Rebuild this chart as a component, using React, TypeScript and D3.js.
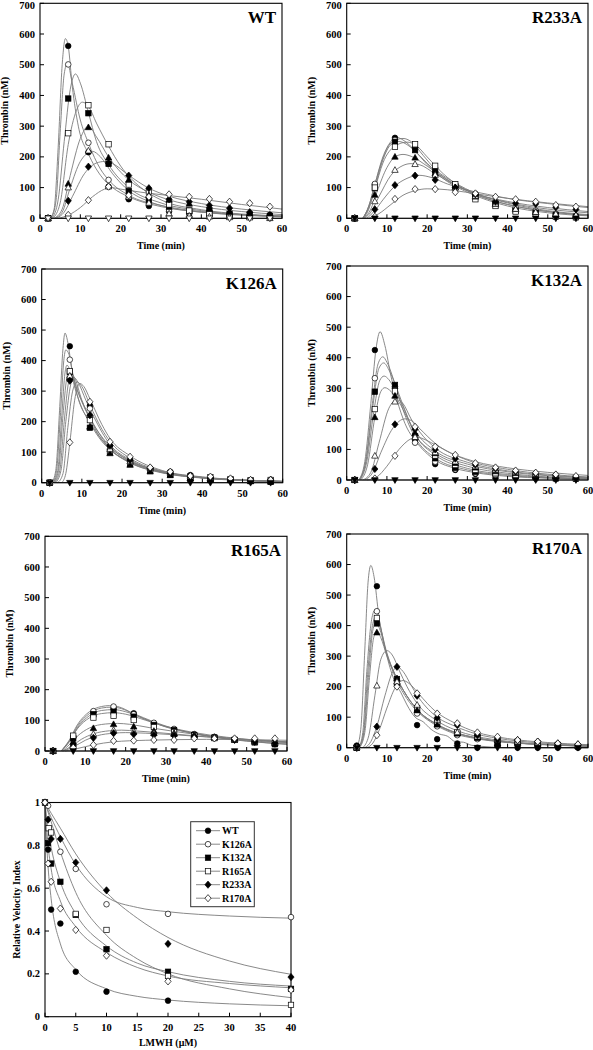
import React from 'react';
import * as d3 from 'd3';

// ---------- shared axis data ----------
const TIMES = [2, 7, 12, 17, 22, 27, 32, 37, 42, 47, 52, 57];
const TIMES_R170A = [2.5, 7.5, 12.5, 17.5, 22.5, 27.5, 32.5, 37.5, 42.5, 47.5, 52.5, 57.5];
const THROMBIN_TICKS = [0, 100, 200, 300, 400, 500, 600, 700];
const TIME_TICKS = [0, 10, 20, 30, 40, 50, 60];
const LMWH_TICKS = [0, 5, 10, 15, 20, 25, 30, 35, 40];
const RVI_TICKS = [0, 0.2, 0.4, 0.6, 0.8, 1];
const VARIANTS = ['WT', 'K126A', 'K132A', 'R165A', 'R233A', 'R170A'];

// ---------- WT ----------
const WT_POINTS = [
  [0, 561, 215, 103, 62, 40, 22, 15, 10, 8, 5, 11],
  [0, 501, 246, 125, 70, 50, 28, 18, 12, 8, 5, 3],
  [0, 390, 342, 177, 89, 60, 38, 25, 27, 15, 12, 8],
  [0, 277, 368, 241, 110, 87, 45, 25, 15, 10, 5, 3],
  [0, 112, 296, 197, 125, 75, 60, 47, 30, 20, 15, 10],
  [0, 100, 220, 103, 70, 50, 15, 8, 5, 3, 2, 0],
  [0, 57, 168, 180, 139, 98, 62, 54, 42, 33, 20, 10],
  [0, 11, 59, 103, 75, 70, 78, 70, 63, 54, 49, 38],
  [0, 0, 0, 0, 0, 0, 0, 0, 0, 0, 0, 0],
];
const WT_CURVES = [
  [[2.5, 0], [3.5, 30], [4.5, 230], [5.5, 500], [6.3, 585], [7, 560], [8, 430], [9.5, 300], [12, 210], [15, 140], [18, 100], [22, 70], [30, 38], [40, 20], [50, 12], [60, 8]],
  [[2.8, 0], [4, 60], [5, 280], [6, 470], [6.8, 505], [8, 440], [10, 320], [12, 245], [15, 160], [17, 125], [22, 75], [30, 42], [40, 22], [50, 12], [60, 6]],
  [[3, 0], [4.5, 60], [6, 250], [7.5, 420], [8.8, 470], [10, 440], [12, 345], [14, 250], [17, 175], [22, 100], [30, 50], [40, 25], [50, 12], [60, 6]],
  [[3.2, 0], [5, 50], [7, 240], [9, 350], [10.5, 378], [12, 365], [14, 310], [17, 235], [20, 170], [25, 100], [30, 60], [40, 28], [50, 14], [60, 7]],
  [[3.5, 0], [5.5, 30], [7.5, 140], [10, 260], [12, 300], [14, 265], [17, 200], [22, 125], [27, 85], [32, 60], [40, 38], [50, 22], [60, 12]],
  [[3.5, 0], [5.5, 20], [7.5, 100], [10, 185], [13, 218], [15, 200], [18, 145], [22, 90], [27, 55], [32, 35], [40, 20], [50, 10], [60, 5]],
  [[4, 0], [6, 20], [8, 70], [11, 145], [14, 180], [16, 185], [18, 178], [22, 140], [27, 98], [32, 72], [40, 48], [50, 30], [60, 18]],
  [[4.5, 0], [7, 10], [10, 35], [13, 70], [16, 95], [17.5, 100], [20, 95], [25, 85], [30, 77], [40, 62], [50, 45], [60, 30]],
  [[0, 0], [60, 0]],
];

// ---------- R233A ----------
const R233A_POINTS = [
  [0, 110, 262, 230, 150, 105, 75, 50, 30, 20, 10, 3],
  [0, 112, 255, 230, 141, 110, 80, 55, 35, 25, 15, 8],
  [0, 98, 249, 222, 157, 105, 72, 45, 25, 18, 10, 5],
  [0, 100, 233, 241, 171, 111, 62, 40, 22, 12, 5, 3],
  [0, 76, 200, 197, 146, 100, 70, 47, 30, 20, 12, 8],
  [0, 55, 157, 176, 141, 100, 72, 47, 30, 20, 14, 10],
  [0, 29, 108, 139, 125, 100, 78, 54, 49, 47, 36, 29],
  [0, 5, 63, 95, 95, 85, 81, 70, 62, 54, 43, 38],
  [0, 0, 0, 0, 0, 0, 0, 0, 0, 0, 0, 0],
];
const R233A_CURVES = [
  [[4, 0], [5.5, 40], [7, 110], [9, 200], [11, 250], [12.5, 263], [14, 255], [17, 220], [20, 175], [25, 120], [30, 85], [40, 40], [50, 18], [60, 8]],
  [[4, 0], [5.5, 40], [7, 110], [9, 195], [11, 245], [14, 260], [16, 250], [19, 205], [22, 160], [27, 115], [32, 82], [40, 50], [50, 25], [60, 12]],
  [[4, 0], [5.5, 35], [7, 100], [9, 190], [11, 240], [13, 250], [15, 240], [18, 205], [22, 155], [27, 110], [32, 78], [40, 45], [50, 22], [60, 10]],
  [[4.2, 0], [5.5, 30], [7, 95], [9, 180], [12, 235], [15, 248], [17, 240], [20, 200], [24, 145], [28, 105], [32, 78], [40, 45], [50, 22], [60, 10]],
  [[4.3, 0], [6, 30], [7.5, 85], [10, 165], [12, 200], [14, 208], [16, 202], [20, 170], [25, 125], [30, 90], [40, 52], [50, 30], [60, 18]],
  [[4.5, 0], [6, 20], [8, 70], [11, 140], [14, 172], [16, 178], [18, 175], [22, 145], [27, 108], [32, 80], [40, 55], [50, 35], [60, 22]],
  [[5, 0], [7, 25], [9, 60], [12, 105], [15, 130], [18, 140], [21, 133], [25, 112], [30, 92], [35, 78], [40, 65], [50, 48], [60, 35]],
  [[5.5, 0], [8, 15], [11, 45], [14, 75], [17, 90], [20, 96], [23, 95], [27, 90], [32, 80], [40, 65], [50, 50], [60, 38]],
  [[0, 0], [60, 0]],
];

// ---------- K126A ----------
const K126A_POINTS = [
  [0, 447, 252, 121, 74, 47, 36, 25, 15, 10, 5, 3],
  [0, 403, 243, 110, 70, 45, 30, 20, 15, 12, 8, 10],
  [0, 363, 180, 101, 61, 40, 25, 14, 9, 9, 5, 3],
  [0, 365, 205, 101, 65, 42, 30, 20, 18, 12, 8, 9],
  [0, 345, 183, 96, 58, 36, 25, 15, 10, 8, 5, 3],
  [0, 350, 221, 110, 70, 48, 32, 20, 15, 12, 8, 10],
  [0, 334, 221, 121, 74, 47, 30, 20, 15, 12, 8, 9],
  [0, 132, 265, 134, 85, 50, 36, 22, 20, 14, 9, 9],
  [0, 0, 0, 0, 0, 0, 0, 0, 0, 0, 0, 0],
];
const K126A_CURVES = [
  [[2.5, 0], [3.5, 40], [4.5, 250], [5.3, 440], [5.8, 490], [6.5, 460], [7.5, 370], [9, 280], [12, 200], [15, 140], [17, 115], [22, 70], [27, 45], [32, 30], [40, 16], [50, 8], [60, 4]],
  [[2.7, 0], [3.7, 40], [4.7, 230], [5.5, 400], [6, 435], [6.8, 420], [8, 340], [10, 265], [12, 210], [15, 150], [17, 118], [22, 72], [30, 36], [40, 17], [50, 8], [60, 4]],
  [[2.8, 0], [4, 40], [5, 220], [5.8, 360], [6.3, 385], [7, 370], [8.5, 300], [10, 245], [12, 195], [15, 135], [17, 108], [22, 65], [30, 32], [40, 15], [50, 7], [60, 3]],
  [[3, 0], [4.2, 40], [5.3, 220], [6.2, 340], [6.8, 370], [7.5, 360], [9, 300], [11, 240], [13, 190], [17, 112], [22, 68], [30, 34], [40, 16], [50, 8], [60, 4]],
  [[3.2, 0], [4.5, 40], [5.6, 200], [6.7, 330], [7.5, 355], [8.3, 340], [10, 270], [12, 210], [15, 140], [17, 110], [22, 66], [30, 33], [40, 16], [50, 8], [60, 4]],
  [[3.5, 0], [4.8, 40], [6, 200], [7.2, 320], [8, 345], [9, 330], [11, 270], [13, 215], [17, 125], [22, 75], [30, 36], [40, 17], [50, 8], [60, 4]],
  [[4, 0], [5.3, 30], [6.5, 180], [7.7, 300], [8.8, 330], [10, 315], [12, 255], [15, 175], [17, 135], [22, 80], [30, 38], [40, 18], [50, 9], [60, 4]],
  [[5, 0], [6, 30], [7, 130], [8.2, 270], [9.5, 325], [10.5, 315], [12, 275], [15, 190], [17, 145], [22, 88], [30, 40], [40, 19], [50, 9], [60, 5]],
  [[0, 0], [60, 0]],
];

// ---------- K132A ----------
const K132A_POINTS = [
  [0, 425, 300, 131, 52, 33, 20, 15, 10, 5, 5, 3],
  [0, 333, 305, 122, 60, 35, 22, 15, 11, 5, 5, 3],
  [0, 289, 311, 142, 71, 40, 27, 22, 15, 11, 5, 5],
  [0, 232, 290, 142, 80, 49, 33, 22, 15, 11, 10, 5],
  [0, 205, 275, 153, 87, 55, 40, 28, 22, 15, 12, 8],
  [0, 79, 256, 140, 90, 60, 44, 33, 25, 20, 15, 10],
  [0, 36, 182, 166, 100, 70, 50, 38, 28, 22, 16, 10],
  [0, 5, 79, 174, 109, 82, 55, 41, 31, 24, 18, 13],
  [0, 0, 0, 0, 0, 0, 0, 0, 0, 0, 0, 0],
];
const K132A_CURVES = [
  [[3, 0], [4.5, 60], [6, 250], [7.3, 430], [8.3, 485], [9.5, 440], [11, 340], [13, 240], [15, 170], [17, 130], [22, 65], [27, 38], [32, 24], [40, 12], [50, 6], [60, 3]],
  [[3, 0], [4.7, 60], [6.3, 240], [7.8, 380], [9, 403], [10, 385], [12, 315], [14, 230], [17, 140], [22, 72], [30, 33], [40, 15], [50, 7], [60, 4]],
  [[3.2, 0], [4.8, 60], [6.5, 240], [8, 365], [9.2, 383], [10.5, 360], [12, 315], [14, 245], [17, 150], [22, 82], [30, 38], [40, 18], [50, 8], [60, 4]],
  [[3.3, 0], [5, 60], [6.7, 220], [8.2, 325], [9.3, 340], [10.5, 328], [12, 295], [14, 240], [17, 150], [22, 88], [30, 45], [40, 22], [50, 10], [60, 5]],
  [[3.5, 0], [5.2, 50], [7, 205], [8.5, 290], [9.5, 302], [11, 290], [13, 255], [15, 205], [17, 160], [22, 95], [30, 52], [40, 27], [50, 14], [60, 7]],
  [[4, 0], [6, 25], [8, 120], [10.5, 235], [12.5, 262], [14, 250], [16, 200], [18, 160], [22, 105], [30, 58], [40, 30], [50, 16], [60, 8]],
  [[4.5, 0], [6.5, 25], [8.5, 90], [11.5, 170], [14.5, 200], [16, 195], [18, 170], [22, 120], [30, 65], [40, 35], [50, 19], [60, 10]],
  [[5, 0], [7.5, 10], [10, 45], [13, 100], [16, 135], [17.5, 140], [19.5, 132], [22, 115], [27, 82], [32, 60], [40, 40], [50, 25], [60, 15]],
  [[0, 0], [60, 0]],
];

// ---------- R165A ----------
const R165A_POINTS = [
  [0, 45, 126, 139, 123, 90, 70, 55, 45, 38, 30, 22],
  [0, 48, 130, 145, 120, 92, 72, 55, 46, 38, 30, 25],
  [0, 41, 120, 128, 112, 85, 68, 52, 44, 36, 28, 22],
  [0, 50, 109, 115, 101, 78, 62, 50, 42, 36, 30, 25],
  [0, 30, 74, 87, 79, 65, 58, 52, 44, 38, 30, 25],
  [0, 22, 55, 68, 63, 58, 55, 50, 45, 38, 33, 28],
  [0, 20, 43, 58, 55, 52, 50, 47, 42, 36, 30, 25],
  [0, 11, 20, 33, 34, 36, 36, 41, 41, 41, 41, 41],
  [0, 0, 0, 0, 0, 0, 0, 0, 0, 0, 0, 0],
];
const R165A_CURVES = [
  [[4, 0], [6, 33], [8, 80], [11, 122], [14, 140], [16.5, 143], [19, 138], [22, 120], [27, 92], [32, 72], [40, 50], [50, 33], [60, 22]],
  [[4, 0], [6, 35], [8, 85], [11, 128], [14, 145], [16, 148], [18, 145], [22, 122], [27, 95], [32, 73], [37, 57], [42, 45], [50, 32], [60, 22]],
  [[4, 0], [6, 30], [8, 75], [11, 115], [14, 132], [17, 135], [20, 128], [24, 108], [30, 78], [37, 57], [45, 42], [60, 25]],
  [[4, 0], [6, 30], [8, 72], [11, 108], [14, 122], [17, 125], [20, 120], [25, 100], [30, 80], [37, 60], [45, 45], [60, 28]],
  [[4.2, 0], [6, 20], [8, 48], [11, 75], [15, 88], [18, 90], [21, 87], [26, 76], [32, 64], [40, 50], [50, 37], [60, 28]],
  [[4.3, 0], [6.5, 15], [9, 38], [12, 56], [16, 66], [19, 68], [23, 65], [28, 60], [35, 52], [45, 41], [60, 30]],
  [[4.5, 0], [7, 13], [10, 35], [13, 50], [17, 58], [20, 60], [25, 58], [32, 53], [40, 46], [50, 38], [60, 30]],
  [[5, 0], [8, 8], [12, 20], [17, 30], [25, 35], [32, 37], [40, 38], [50, 37], [60, 35]],
  [[0, 0], [60, 0]],
];

// ---------- R170A ----------
const R170A_POINTS = [
  [7, 529, 205, 74, 28, 14, 0, 9, 0, 0, 0, 0],
  [0, 447, 210, 112, 70, 41, 28, 20, 14, 10, 8, 5],
  [0, 407, 225, 123, 80, 47, 33, 9, 20, 14, 9, 5],
  [0, 425, 216, 130, 85, 50, 36, 25, 17, 12, 9, 5],
  [0, 377, 227, 123, 75, 47, 33, 25, 17, 12, 9, 5],
  [0, 203, 216, 140, 91, 50, 36, 28, 20, 14, 10, 8],
  [0, 69, 265, 170, 98, 74, 41, 28, 25, 20, 14, 11],
  [0, 41, 200, 178, 112, 80, 50, 36, 25, 20, 14, 11],
  [0, 0, 0, 0, 0, 0, 0, 0, 0, 0, 0, 0],
];
const R170A_CURVES = [
  [[2.5, 0], [3.5, 60], [4.5, 320], [5.3, 540], [6, 597], [6.8, 560], [8, 430], [10, 300], [12, 215], [13.5, 180], [15, 140], [17, 100], [19, 85], [21, 60], [23, 45], [25, 38], [27, 20], [29, 18], [31, 8], [33, 5], [36, 2], [40, 0], [60, 0]],
  [[3, 0], [4, 50], [5, 250], [6.2, 420], [7, 450], [8, 420], [9.5, 330], [11.5, 250], [13, 205], [15, 160], [17.5, 120], [22, 75], [27, 45], [32, 30], [40, 17], [50, 9], [60, 5]],
  [[3.1, 0], [4.3, 50], [5.4, 230], [6.5, 385], [7.3, 410], [8.3, 385], [10, 305], [12, 240], [14, 190], [17.5, 125], [22, 80], [27, 50], [32, 33], [40, 18], [50, 10], [60, 5]],
  [[3, 0], [4.2, 50], [5.2, 240], [6.4, 400], [7.2, 428], [8.2, 400], [10, 310], [12, 240], [14, 190], [17.5, 125], [22, 80], [27, 50], [32, 33], [40, 18], [50, 10], [60, 5]],
  [[3.2, 0], [4.5, 50], [5.6, 220], [6.7, 360], [7.5, 382], [8.5, 360], [10, 300], [12, 240], [14, 190], [17.5, 125], [22, 78], [27, 48], [32, 32], [40, 18], [50, 10], [60, 5]],
  [[4, 0], [5.5, 40], [7, 170], [8.5, 290], [10, 318], [11.5, 300], [13, 255], [15, 200], [17.5, 145], [22, 92], [27, 58], [32, 38], [40, 21], [50, 11], [60, 6]],
  [[4.5, 0], [6, 20], [7.5, 70], [9.5, 170], [11.5, 250], [12.5, 265], [14, 250], [16, 205], [17.5, 172], [22, 105], [27, 70], [32, 46], [40, 26], [50, 14], [60, 8]],
  [[5, 0], [6.5, 15], [8, 55], [10, 130], [12, 195], [14, 220], [16, 205], [18, 175], [22, 120], [27, 80], [32, 52], [40, 30], [50, 17], [60, 10]],
  [[0, 0], [60, 0]],
];

// ---------- Relative velocity index vs LMWH ----------
const RVI_POINTS = [
  [[0, 1], [0.5, 0.78], [1, 0.5], [2.5, 0.435], [5, 0.21], [10, 0.117], [20, 0.075]],
  [[0, 1], [0.5, 0.985], [2.5, 0.77], [5, 0.69], [10, 0.525], [20, 0.48], [40, 0.465]],
  [[0, 1], [0.5, 0.81], [1, 0.715], [2.5, 0.63], [5, 0.475], [10, 0.315], [20, 0.21], [40, 0.13]],
  [[0, 1], [0.6, 0.88], [1, 0.86], [5, 0.48], [10, 0.405], [20, 0.19], [40, 0.055]],
  [[0, 1], [0.5, 0.92], [1, 0.83], [2.5, 0.83], [5, 0.72], [10, 0.59], [20, 0.34], [40, 0.185]],
  [[0, 1], [0.5, 0.715], [1, 0.63], [2.5, 0.505], [5, 0.405], [10, 0.285], [20, 0.165], [40, 0.125]],
];
const RVI_CURVES = [
  [[0, 1], [0.25, 0.82], [0.5, 0.7], [1, 0.55], [2.5, 0.34], [5, 0.22], [10, 0.13], [15, 0.095], [20, 0.078], [30, 0.06], [40, 0.051]],
  [[0, 1], [1, 0.93], [2.5, 0.84], [5, 0.71], [10, 0.56], [15, 0.51], [20, 0.49], [30, 0.47], [40, 0.46]],
  [[0, 1], [0.5, 0.87], [1, 0.79], [2.5, 0.63], [5, 0.48], [10, 0.33], [15, 0.25], [20, 0.21], [30, 0.165], [40, 0.143]],
  [[0, 1], [1, 0.91], [2.5, 0.77], [5, 0.58], [10, 0.38], [15, 0.27], [20, 0.2], [30, 0.13], [40, 0.089]],
  [[0, 1], [1, 0.95], [2.5, 0.88], [5, 0.76], [10, 0.58], [15, 0.46], [20, 0.37], [30, 0.26], [40, 0.198]],
  [[0, 1], [0.5, 0.8], [1, 0.69], [2.5, 0.54], [5, 0.42], [10, 0.3], [15, 0.23], [20, 0.19], [30, 0.155], [40, 0.135]],
];

// ---------- styles ----------
const FONT = "'Liberation Serif', 'Times New Roman', Times, serif";
const LINE = '#7c7c7c';
const SHAPES = [
  { shape: 'circle', filled: true },
  { shape: 'circle', filled: false },
  { shape: 'square', filled: true },
  { shape: 'square', filled: false },
  { shape: 'triangle', filled: true },
  { shape: 'triangle', filled: false },
  { shape: 'diamond', filled: true },
  { shape: 'diamond', filled: false },
  { shape: 'down', filled: true },
];
const RVI_SHAPES = [SHAPES[0], SHAPES[1], SHAPES[2], SHAPES[3], SHAPES[6], SHAPES[7]];

function Marker({ x, y, shape, filled }: { x: number; y: number; shape: string; filled: boolean }) {
  const fill = filled ? '#000' : '#fff';
  const common = { fill, stroke: '#000', strokeWidth: 0.7 };
  if (shape === 'circle') return <circle cx={x} cy={y} r={2.8} {...common} />;
  if (shape === 'square') return <rect x={x - 2.7} y={y - 2.7} width={5.4} height={5.4} {...common} />;
  if (shape === 'triangle')
    return <path d={`M${x},${y - 3.4}L${x + 3.2},${y + 2.3}L${x - 3.2},${y + 2.3}Z`} {...common} />;
  if (shape === 'down')
    return <path d={`M${x},${y + 3.4}L${x + 3.2},${y - 2.3}L${x - 3.2},${y - 2.3}Z`} {...common} />;
  return <path d={`M${x},${y - 3.6}L${x + 3.1},${y}L${x},${y + 3.6}L${x - 3.1},${y}Z`} {...common} />;
}

type PanelDef = {
  name: string;
  points: number[][];
  curves: number[][][];
  times: number[];
  left: number;
  right: number;
  top: number;
  bottom: number;
  openDown?: boolean;
};

const PANELS: PanelDef[] = [
  { name: 'WT', points: WT_POINTS, curves: WT_CURVES, times: TIMES, left: 40, right: 282, top: 3.3, bottom: 218.3, openDown: true },
  { name: 'R233A', points: R233A_POINTS, curves: R233A_CURVES, times: TIMES, left: 346.7, right: 588, top: 3.3, bottom: 218.3 },
  { name: 'K126A', points: K126A_POINTS, curves: K126A_CURVES, times: TIMES, left: 41.7, right: 282.7, top: 269, bottom: 482.7 },
  { name: 'K132A', points: K132A_POINTS, curves: K132A_CURVES, times: TIMES, left: 346.7, right: 588, top: 266, bottom: 480 },
  { name: 'R165A', points: R165A_POINTS, curves: R165A_CURVES, times: TIMES, left: 45, right: 287, top: 536.3, bottom: 751 },
  { name: 'R170A', points: R170A_POINTS, curves: R170A_CURVES, times: TIMES_R170A, left: 346.7, right: 588, top: 534, bottom: 747.7 },
];

function ThrombinPanel({ p }: { p: PanelDef }) {
  const x = d3.scaleLinear().domain([0, 60]).range([p.left, p.right]);
  const y = d3.scaleLinear().domain([0, 700]).range([p.bottom, p.top]);
  const line = d3
    .line<number[]>()
    .x((d) => x(d[0]))
    .y((d) => y(d[1]))
    .curve(d3.curveMonotoneX);
  return (
    <g>
      {p.curves.map((c, i) => (
        <path key={'c' + i} d={line(c) || ''} fill="none" stroke={LINE} strokeWidth={0.9} />
      ))}
      <rect x={p.left} y={p.top} width={p.right - p.left} height={p.bottom - p.top} fill="none" stroke="#000" strokeWidth={1.1} />
      {TIME_TICKS.map((t) => (
        <g key={'xt' + t}>
          <line x1={x(t)} x2={x(t)} y1={p.bottom} y2={p.bottom - 4} stroke="#000" strokeWidth={1} />
          <text x={x(t)} y={p.bottom + 14} textAnchor="middle" fontSize={10.5} fontWeight="bold" fontFamily={FONT}>
            {t}
          </text>
        </g>
      ))}
      {THROMBIN_TICKS.map((v) => (
        <g key={'yt' + v}>
          <line x1={p.left} x2={p.left + 4} y1={y(v)} y2={y(v)} stroke="#000" strokeWidth={1} />
          <text x={p.left - 5} y={Math.max(y(v) + 3.6, 8.5)} textAnchor="end" fontSize={10.5} fontWeight="bold" fontFamily={FONT}>
            {v}
          </text>
        </g>
      ))}
      {p.points.map((vals, i) =>
        vals.map((v, j) => {
          const st = SHAPES[i];
          const filled = i === 8 && p.openDown ? false : st.filled;
          return <Marker key={`m${i}-${j}`} x={x(p.times[j])} y={y(v)} shape={st.shape} filled={filled} />;
        })
      )}
      <text x={p.right - 6} y={p.top + 20} textAnchor="end" fontSize={17} fontWeight="bold" fontFamily={FONT}>
        {p.name}
      </text>
      <text x={(p.left + p.right) / 2} y={p.bottom + 31} textAnchor="middle" fontSize={10} fontWeight="bold" fontFamily={FONT}>
        Time (min)
      </text>
      <text
        transform={`translate(${p.left - 32},${(p.top + p.bottom) / 2}) rotate(-90)`}
        textAnchor="middle"
        fontSize={10}
        fontWeight="bold"
        fontFamily={FONT}
      >
        Thrombin (nM)
      </text>
    </g>
  );
}

function RviPanel() {
  const left = 45, right = 291, top = 802.5, bottom = 1016.7;
  const x = d3.scaleLinear().domain([0, 40]).range([left, right]);
  const y = d3.scaleLinear().domain([0, 1]).range([bottom, top]);
  const line = d3
    .line<number[]>()
    .x((d) => x(d[0]))
    .y((d) => y(d[1]))
    .curve(d3.curveMonotoneX);
  const legX = 190.7, legY = 821.7;
  return (
    <g>
      {RVI_CURVES.map((c, i) => (
        <path key={'rc' + i} d={line(c) || ''} fill="none" stroke={LINE} strokeWidth={0.9} />
      ))}
      <rect x={left} y={top} width={right - left} height={bottom - top} fill="none" stroke="#000" strokeWidth={1.1} />
      {LMWH_TICKS.map((t) => (
        <g key={'lx' + t}>
          <line x1={x(t)} x2={x(t)} y1={bottom} y2={bottom - 4} stroke="#000" strokeWidth={1} />
          <text x={x(t)} y={bottom + 14} textAnchor="middle" fontSize={10.5} fontWeight="bold" fontFamily={FONT}>
            {t}
          </text>
        </g>
      ))}
      {RVI_TICKS.map((v) => (
        <g key={'ly' + v}>
          <line x1={left} x2={left + 4} y1={y(v)} y2={y(v)} stroke="#000" strokeWidth={1} />
          <text x={left - 5} y={y(v) + 3.6} textAnchor="end" fontSize={10.5} fontWeight="bold" fontFamily={FONT}>
            {v === 0 || v === 1 ? String(v) : v.toFixed(1)}
          </text>
        </g>
      ))}
      {RVI_POINTS.map((pts, i) =>
        pts.map((d, j) => (
          <Marker key={`rm${i}-${j}`} x={x(d[0])} y={y(d[1])} shape={RVI_SHAPES[i].shape} filled={RVI_SHAPES[i].filled} />
        ))
      )}
      <rect x={legX} y={legY} width={63.6} height={85} fill="#fff" stroke="#333" strokeWidth={1} />
      {VARIANTS.map((name, i) => {
        const ry = 830.7 + i * 13.5;
        return (
          <g key={'lg' + name}>
            <line x1={196} x2={220} y1={ry} y2={ry} stroke={LINE} strokeWidth={0.9} />
            <Marker x={208} y={ry} shape={RVI_SHAPES[i].shape} filled={RVI_SHAPES[i].filled} />
            <text x={222} y={ry + 3.6} fontSize={10} fontWeight="bold" fontFamily={FONT}>
              {name}
            </text>
          </g>
        );
      })}
      <text x={(left + right) / 2} y={1046} textAnchor="middle" fontSize={10} fontWeight="bold" fontFamily={FONT}>
        LMWH (μM)
      </text>
      <text
        transform={`translate(${20},${(top + bottom) / 2}) rotate(-90)`}
        textAnchor="middle"
        fontSize={10}
        fontWeight="bold"
        fontFamily={FONT}
      >
        Relative Velocity Index
      </text>
    </g>
  );
}

export default function App() {
  return (
    <svg
      width={593}
      height={1050}
      viewBox="0 0 593 1050"
      style={{ position: 'absolute', left: 0, top: 0, background: '#fff' }}
    >
      <rect x={0} y={0} width={593} height={1050} fill="#fff" />
      {PANELS.map((p) => (
        <ThrombinPanel key={p.name} p={p} />
      ))}
      <RviPanel />
    </svg>
  );
}
